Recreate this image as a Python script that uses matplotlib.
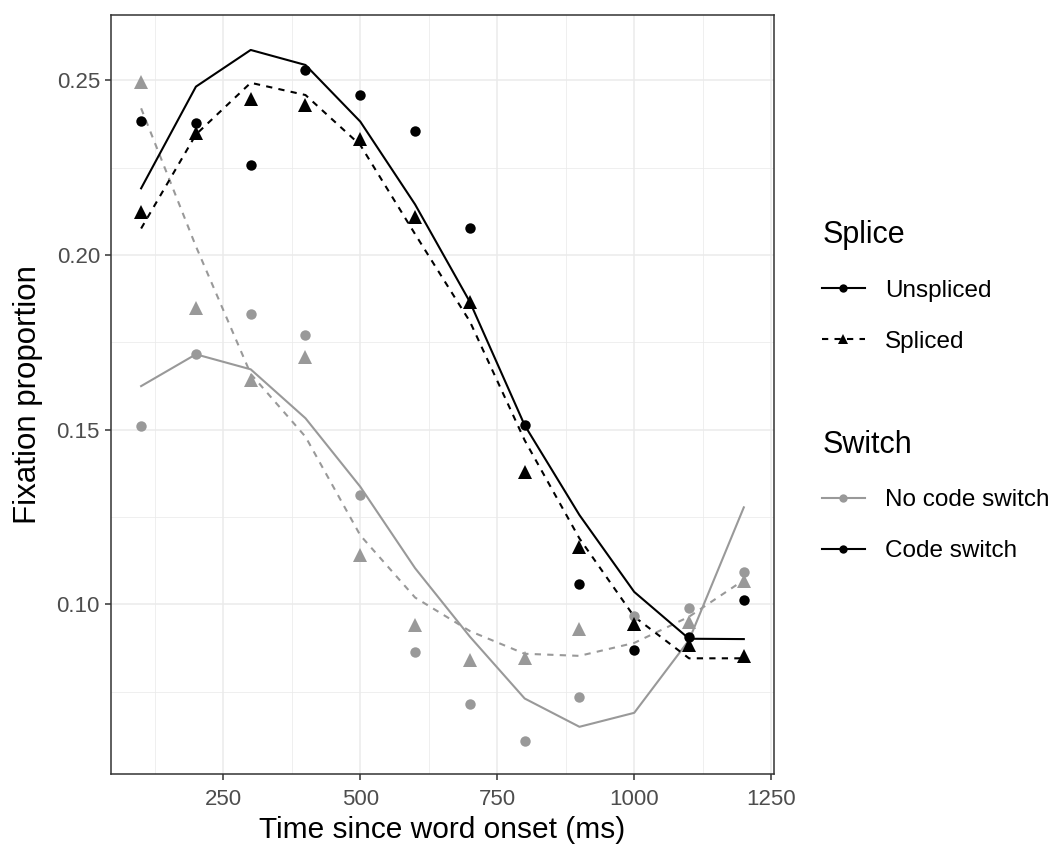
import matplotlib.pyplot as plt
from matplotlib.lines import Line2D
from matplotlib.ticker import MultipleLocator

plt.rcParams['font.family'] = ['Liberation Sans', 'DejaVu Sans']

# time bins (ms)
time = [100, 200, 300, 400, 500, 600, 700, 800, 900, 1000, 1100, 1200]

# observed proportions (points)
cs_unspliced_pts = [0.2384, 0.2379, 0.2257, 0.2529, 0.2458, 0.2356, 0.2078, 0.1513, 0.1058, 0.0870, 0.0906, 0.1013]
cs_spliced_pts = [0.2124, 0.2350, 0.2448, 0.2429, 0.2331, 0.2110, 0.1866, 0.1380, 0.1165, 0.0944, 0.0884, 0.0853]
ncs_unspliced_pts = [0.1511, 0.1716, 0.1831, 0.1771, 0.1313, 0.0863, 0.0715, 0.0610, 0.0736, 0.0967, 0.0991, 0.1094]
ncs_spliced_pts = [0.2496, 0.1848, 0.1642, 0.1707, 0.1141, 0.0940, 0.0841, 0.0846, 0.0929, 0.0945, 0.0951, 0.1066]

# model fits (lines)
cs_unspliced_fit = [0.2191, 0.2482, 0.2587, 0.2544, 0.2382, 0.2145, 0.1866, 0.1513, 0.1256, 0.1036, 0.0902, 0.0901]
cs_spliced_fit = [0.2076, 0.2345, 0.2493, 0.2458, 0.2315, 0.2060, 0.1810, 0.1470, 0.1189, 0.0965, 0.0846, 0.0846]
ncs_unspliced_fit = [0.1625, 0.1716, 0.1673, 0.1533, 0.1337, 0.1104, 0.0908, 0.0731, 0.0650, 0.0690, 0.0898, 0.1278]
ncs_spliced_fit = [0.2420, 0.2025, 0.1660, 0.1480, 0.1198, 0.1020, 0.0924, 0.0859, 0.0853, 0.0890, 0.0965, 0.1070]

grey = '#999999'
black = '#000000'

fig = plt.figure(figsize=(10.54, 8.48), dpi=100)
ax = fig.add_axes([0.1053, 0.0873, 0.6290, 0.8950])

# grid like theme_bw
ax.set_xlim(45, 1255)
ax.set_ylim(0.0515, 0.2687)
ax.xaxis.set_major_locator(MultipleLocator(250))
ax.xaxis.set_minor_locator(MultipleLocator(125))
ax.yaxis.set_major_locator(MultipleLocator(0.05))
ax.yaxis.set_minor_locator(MultipleLocator(0.025))
ax.grid(which='major', color='#EBEBEB', linewidth=1.1, zorder=0)
ax.grid(which='minor', color='#EBEBEB', linewidth=0.55, zorder=0)
ax.set_axisbelow(True)
ax.tick_params(which='minor', length=0)
ax.tick_params(which='major', length=4, width=1.1, color='#333333',
               labelsize=16, labelcolor='#4D4D4D')
ax.tick_params(axis='x', pad=7)
ax.tick_params(axis='y', pad=4)
for s in ax.spines.values():
    s.set_color('#333333')
    s.set_linewidth(1.1)
ax.set_xticks([250, 500, 750, 1000, 1250])
ax.set_xticklabels(['250', '500', '750', '1000', '1250'])
ax.set_yticks([0.10, 0.15, 0.20, 0.25])
ax.set_yticklabels(['0.10', '0.15', '0.20', '0.25'])

dash = (0, (3, 3))

# lines
ax.plot(time, ncs_unspliced_fit, color=grey, lw=1.5, zorder=2)
ax.plot(time, ncs_spliced_fit, color=grey, lw=1.5, ls=dash, zorder=2)
ax.plot(time, cs_unspliced_fit, color=black, lw=1.5, zorder=3)
ax.plot(time, cs_spliced_fit, color=black, lw=1.5, ls=dash, zorder=3)

# points
ax.plot(time, ncs_unspliced_pts, 'o', color=grey, ms=7.5, mew=0, zorder=4)
ax.plot(time, ncs_spliced_pts, '^', color=grey, ms=10, mew=0, zorder=4)
ax.plot(time, cs_unspliced_pts, 'o', color=black, ms=7.5, mew=0, zorder=5)
ax.plot(time, cs_spliced_pts, '^', color=black, ms=10, mew=0, zorder=5)

ax.set_xlabel('Time since word onset (ms)', fontsize=21.5, labelpad=4)
ax.set_ylabel('Fixation proportion', fontsize=22.5, labelpad=10)

# legends
leg_kw = dict(loc='upper left', frameon=False, fontsize=17.5, title_fontsize=22,
              handlelength=1.75, labelspacing=1.2, handletextpad=0.85,
              borderpad=0, borderaxespad=0)

splice_handles = [
    Line2D([], [], color=black, lw=1.5, marker='o', ms=6, mew=0),
    Line2D([], [], color=black, lw=1.5, ls=dash, marker='^', ms=7.5, mew=0),
]
leg1 = fig.legend(splice_handles, ['Unspliced', 'Spliced'], title='Splice',
                  bbox_to_anchor=(0.780, 0.740), **leg_kw)
leg1._legend_box.align = 'left'

switch_handles = [
    Line2D([], [], color=grey, lw=1.5, marker='o', ms=6, mew=0),
    Line2D([], [], color=black, lw=1.5, marker='o', ms=6, mew=0),
]
leg2 = fig.legend(switch_handles, ['No code switch', 'Code switch'], title='Switch',
                  bbox_to_anchor=(0.780, 0.493), **leg_kw)
leg2._legend_box.align = 'left'

fig.savefig('out.png', dpi=100)
